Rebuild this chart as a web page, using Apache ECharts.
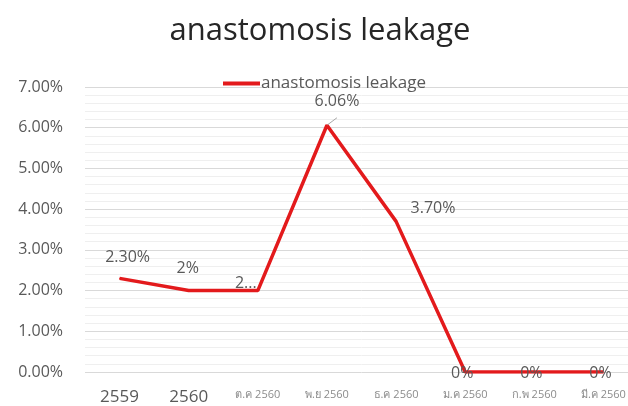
<!DOCTYPE html>
<html>
<head>
<meta charset="utf-8">
<script src="https://cdn.jsdelivr.net/npm/echarts@6/dist/echarts.min.js"></script>
<style>
  html, body { margin: 0; padding: 0; background: #fff; overflow: hidden; }
  #chart { width: 640px; height: 406px; }
</style>
</head>
<body>
<div id="chart"></div>
<script>
// categories along the x axis
const categories = ['2559', '2560', 'ต.ค 2560', 'พ.ย 2560', 'ธ.ค 2560', 'ม.ค 2560', 'ก.พ 2560', 'มี.ค 2560'];
// leakage rate, percent
const leakage = [2.30, 2, 2, 6.06, 3.70, 0, 0, 0];
// text shown next to each point
const pointLabels = ['2.30%', '2%', '2...', '6.06%', '3.70%', '0%', '0%', '0%'];

const labelOffsets = [[8, -7], [-1, -9], [-12, 6], [10, -10], [9, -13], [-3, 15], [-3, 15], [-3, 15]];

const chart = echarts.init(document.getElementById('chart'));

const font = '"Open Sans", "Noto Sans", sans-serif';

chart.setOption({
  animation: false,
  title: {
    text: 'anastomosis leakage',
    left: 'center',
    top: 11,
    textStyle: { fontFamily: font, fontSize: 31, fontWeight: 'normal', color: '#262626' }
  },
  legend: {
    left: 218,
    top: 70,
    icon: 'rect',
    itemWidth: 37,
    itemHeight: 4,
    itemGap: 4,
    textStyle: { fontFamily: font, fontSize: 17, color: '#595959', padding: [0, 0, 0, -4] },
    data: ['anastomosis leakage']
  },
  grid: { left: 85, top: 87, right: 2, bottom: 34 },
  xAxis: {
    type: 'category',
    data: categories,
    axisLine: { show: false },
    axisTick: { show: false },
    axisLabel: {
      margin: 17,
      interval: 0,
      fontFamily: font,
      formatter: v => /^\d+$/.test(v) ? '{big|' + v + '}' : '{small|' + v + '}',
      rich: {
        big: { fontFamily: font, fontSize: 17, color: '#595959' },
        small: { fontFamily: font, fontSize: 11, color: '#8c8c8c' }
      }
    }
  },
  yAxis: {
    type: 'value',
    min: 0,
    max: 7,
    interval: 1,
    axisLabel: {
      margin: 22,
      fontFamily: font,
      fontSize: 16,
      color: '#595959',
      formatter: v => v.toFixed(2) + '%'
    },
    splitLine: { lineStyle: { color: '#d9d9d9', width: 1 } },
    minorTick: { show: false, splitNumber: 5 },
    minorSplitLine: { show: true, lineStyle: { color: '#efefef', width: 1 } }
  },
  series: [{
    name: 'anastomosis leakage',
    type: 'line',
    data: leakage.map((v, i) => ({
      value: v,
      label: {
        show: true,
        position: i === 4 ? 'right' : 'top',
        offset: labelOffsets[i],
        formatter: pointLabels[i]
      },
      labelLine: { show: i === 3, length2: 0, lineStyle: { color: '#a6a6a6', width: 1 } }
    })),
    symbol: 'circle',
    symbolSize: 1,
    lineStyle: { color: '#e31a1c', width: 3.5 },
    itemStyle: { color: '#e31a1c' },
    label: { fontFamily: font, fontSize: 16, color: '#595959' }
  }]
});
</script>
</body>
</html>
